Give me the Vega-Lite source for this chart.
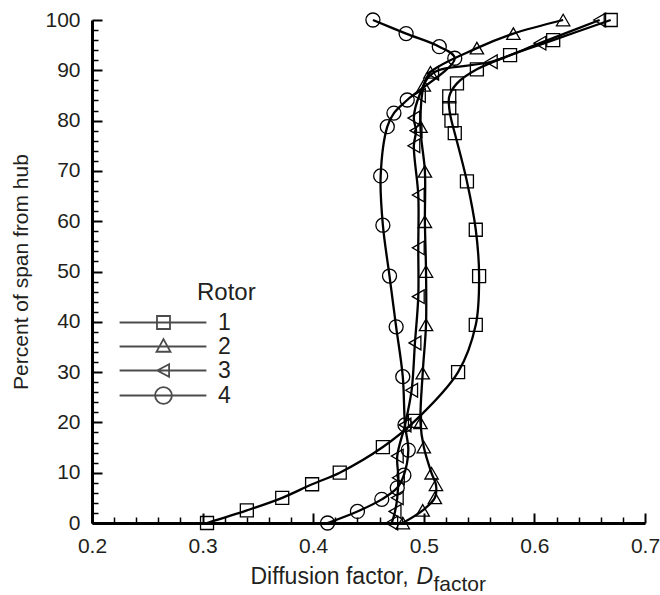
{
  "$schema": "https://vega.github.io/schema/vega-lite/v6.json",
  "width": 553,
  "height": 503,
  "autosize": {"type": "none"},
  "padding": {"left": 92, "top": 20, "right": 15, "bottom": 72},
  "background": "white",
  "config": {
    "view": {"stroke": null},
    "font": "Liberation Sans",
    "axis": {"labelColor": "#231f20", "titleColor": "#231f20", "domainColor": "#000", "tickColor": "#000", "grid": false, "labelFont": "Liberation Sans", "titleFont": "Liberation Sans", "titleFontWeight": "normal"}
  },
  "data": {
    "values": [
      {"Rotor": "1", "i": 1, "D": 0.304, "span": 0},
      {"Rotor": "1", "i": 2, "D": 0.340, "span": 2.5},
      {"Rotor": "1", "i": 3, "D": 0.372, "span": 5},
      {"Rotor": "1", "i": 4, "D": 0.399, "span": 7.7},
      {"Rotor": "1", "i": 5, "D": 0.424, "span": 10},
      {"Rotor": "1", "i": 6, "D": 0.463, "span": 15.1},
      {"Rotor": "1", "i": 7, "D": 0.492, "span": 20.3},
      {"Rotor": "1", "i": 8, "D": 0.531, "span": 30},
      {"Rotor": "1", "i": 9, "D": 0.547, "span": 39.4},
      {"Rotor": "1", "i": 10, "D": 0.550, "span": 49.1},
      {"Rotor": "1", "i": 11, "D": 0.547, "span": 58.3},
      {"Rotor": "1", "i": 12, "D": 0.539, "span": 67.9},
      {"Rotor": "1", "i": 13, "D": 0.528, "span": 77.5},
      {"Rotor": "1", "i": 14, "D": 0.525, "span": 80},
      {"Rotor": "1", "i": 15, "D": 0.523, "span": 82.5},
      {"Rotor": "1", "i": 16, "D": 0.523, "span": 84.8},
      {"Rotor": "1", "i": 17, "D": 0.530, "span": 87.4},
      {"Rotor": "1", "i": 18, "D": 0.548, "span": 90.2},
      {"Rotor": "1", "i": 19, "D": 0.578, "span": 93},
      {"Rotor": "1", "i": 20, "D": 0.617, "span": 96},
      {"Rotor": "1", "i": 21, "D": 0.669, "span": 100},
      {"Rotor": "2", "i": 1, "D": 0.481, "span": 0},
      {"Rotor": "2", "i": 2, "D": 0.499, "span": 2.5},
      {"Rotor": "2", "i": 3, "D": 0.510, "span": 5},
      {"Rotor": "2", "i": 4, "D": 0.511, "span": 7.6},
      {"Rotor": "2", "i": 5, "D": 0.507, "span": 9.9},
      {"Rotor": "2", "i": 6, "D": 0.500, "span": 15.1},
      {"Rotor": "2", "i": 7, "D": 0.497, "span": 19.9},
      {"Rotor": "2", "i": 8, "D": 0.499, "span": 29.8},
      {"Rotor": "2", "i": 9, "D": 0.502, "span": 39.4},
      {"Rotor": "2", "i": 10, "D": 0.502, "span": 50},
      {"Rotor": "2", "i": 11, "D": 0.501, "span": 59.9},
      {"Rotor": "2", "i": 12, "D": 0.501, "span": 69.9},
      {"Rotor": "2", "i": 13, "D": 0.497, "span": 78.8},
      {"Rotor": "2", "i": 14, "D": 0.500, "span": 87},
      {"Rotor": "2", "i": 15, "D": 0.506, "span": 89.6},
      {"Rotor": "2", "i": 16, "D": 0.548, "span": 94.4},
      {"Rotor": "2", "i": 17, "D": 0.581, "span": 97.3},
      {"Rotor": "2", "i": 18, "D": 0.626, "span": 100},
      {"Rotor": "3", "i": 1, "D": 0.471, "span": 0},
      {"Rotor": "3", "i": 2, "D": 0.474, "span": 2.3},
      {"Rotor": "3", "i": 3, "D": 0.476, "span": 5},
      {"Rotor": "3", "i": 4, "D": 0.477, "span": 9},
      {"Rotor": "3", "i": 5, "D": 0.476, "span": 13.3},
      {"Rotor": "3", "i": 6, "D": 0.483, "span": 19.5},
      {"Rotor": "3", "i": 7, "D": 0.489, "span": 26.4},
      {"Rotor": "3", "i": 8, "D": 0.492, "span": 35.8},
      {"Rotor": "3", "i": 9, "D": 0.495, "span": 45},
      {"Rotor": "3", "i": 10, "D": 0.495, "span": 54.7},
      {"Rotor": "3", "i": 11, "D": 0.495, "span": 65.2},
      {"Rotor": "3", "i": 12, "D": 0.491, "span": 75},
      {"Rotor": "3", "i": 13, "D": 0.493, "span": 78},
      {"Rotor": "3", "i": 14, "D": 0.491, "span": 80.5},
      {"Rotor": "3", "i": 15, "D": 0.496, "span": 85},
      {"Rotor": "3", "i": 16, "D": 0.508, "span": 89.4},
      {"Rotor": "3", "i": 17, "D": 0.561, "span": 91.7},
      {"Rotor": "3", "i": 18, "D": 0.605, "span": 95.4},
      {"Rotor": "3", "i": 19, "D": 0.659, "span": 100},
      {"Rotor": "4", "i": 1, "D": 0.413, "span": 0},
      {"Rotor": "4", "i": 2, "D": 0.440, "span": 2.3},
      {"Rotor": "4", "i": 3, "D": 0.462, "span": 4.7},
      {"Rotor": "4", "i": 4, "D": 0.476, "span": 7},
      {"Rotor": "4", "i": 5, "D": 0.482, "span": 9.5},
      {"Rotor": "4", "i": 6, "D": 0.486, "span": 14.5},
      {"Rotor": "4", "i": 7, "D": 0.483, "span": 19.5},
      {"Rotor": "4", "i": 8, "D": 0.481, "span": 29.1},
      {"Rotor": "4", "i": 9, "D": 0.475, "span": 39},
      {"Rotor": "4", "i": 10, "D": 0.469, "span": 49.1},
      {"Rotor": "4", "i": 11, "D": 0.463, "span": 59.2},
      {"Rotor": "4", "i": 12, "D": 0.461, "span": 69},
      {"Rotor": "4", "i": 13, "D": 0.467, "span": 78.8},
      {"Rotor": "4", "i": 14, "D": 0.473, "span": 81.5},
      {"Rotor": "4", "i": 15, "D": 0.485, "span": 84.1},
      {"Rotor": "4", "i": 16, "D": 0.528, "span": 92.4},
      {"Rotor": "4", "i": 17, "D": 0.514, "span": 94.7},
      {"Rotor": "4", "i": 18, "D": 0.484, "span": 97.3},
      {"Rotor": "4", "i": 19, "D": 0.454, "span": 100}
    ]
  },
  "layer": [
    {
      "mark": {"type": "line", "interpolate": "catmull-rom", "color": "#000", "strokeWidth": 2.3, "clip": false},
      "encoding": {
        "x": {"field": "D", "type": "quantitative", "scale": {"domain": [0.2, 0.7], "nice": false, "zero": false},
          "axis": {"orient": "bottom", "values": [0.2, 0.3, 0.4, 0.5, 0.6, 0.7], "format": ".1f", "labelFontSize": 21, "tickSize": -10, "tickWidth": 2, "domainWidth": 3, "labelPadding": 22, "labelFlush": false, "labelOverlap": false, "labelBound": false,
            "title": "Diffusion factor,", "titleFontSize": 23, "titleAlign": "left", "titleX": 158, "titleY": 60, "titleBaseline": "alphabetic"}},
        "y": {"field": "span", "type": "quantitative", "scale": {"domain": [0, 100], "nice": false, "zero": false},
          "axis": {"orient": "left", "values": [0, 10, 20, 30, 40, 50, 60, 70, 80, 90, 100], "labelFontSize": 21, "tickSize": -10, "tickWidth": 2, "domainWidth": 3, "labelPadding": 22, "labelFlush": false, "labelOverlap": false, "labelBound": false,
            "title": "Percent of span from hub", "titleFontSize": 21, "titleX": -71, "titleY": 251.5, "titleAngle": -90, "titleAlign": "center", "titleBaseline": "middle"}},
        "detail": {"field": "Rotor"},
        "order": {"field": "i", "type": "quantitative"}
      }
    },
    {
      "mark": {"type": "point", "filled": false, "color": "#000", "strokeWidth": 1.3, "opacity": 1, "clip": false},
      "encoding": {
        "x": {"field": "D", "type": "quantitative", "scale": {"domain": [0.2, 0.7], "nice": false, "zero": false},
          "axis": {"orient": "bottom", "values": [0.22, 0.24, 0.26, 0.28, 0.32, 0.34, 0.36, 0.38, 0.42, 0.44, 0.46, 0.48, 0.52, 0.54, 0.56, 0.58, 0.62, 0.64, 0.66, 0.68], "labels": false, "domain": false, "tickSize": -6, "tickWidth": 1.5,
            "title": "D", "titleFontSize": 23, "titleFontStyle": "italic", "titleAlign": "left", "titleX": 324, "titleY": 60, "titleBaseline": "alphabetic"}},
        "y": {"field": "span", "type": "quantitative", "scale": {"domain": [0, 100], "nice": false, "zero": false},
          "axis": {"orient": "left", "values": [2, 4, 6, 8, 12, 14, 16, 18, 22, 24, 26, 28, 32, 34, 36, 38, 42, 44, 46, 48, 52, 54, 56, 58, 62, 64, 66, 68, 72, 74, 76, 78, 82, 84, 86, 88, 92, 94, 96, 98], "labels": false, "domain": false, "tickSize": -6, "tickWidth": 1.5, "title": null}},
        "shape": {"field": "Rotor", "type": "nominal", "scale": {"domain": ["1", "2", "3", "4"], "range": ["square", "triangle-up", "triangle-left", "circle"]}, "legend": null},
        "size": {"field": "Rotor", "type": "ordinal", "scale": {"domain": ["1", "2", "3", "4"], "range": [169, 196, 150, 290]}, "legend": null}
      }
    },
    {
      "transform": [{"filter": {"field": "Rotor", "equal": "none"}}],
      "mark": {"type": "point", "filled": false, "color": "#000", "clip": false},
      "encoding": {
        "x": {"field": "D", "type": "quantitative", "scale": {"domain": [0.2, 0.7], "nice": false, "zero": false},
          "axis": {"orient": "bottom", "labels": false, "ticks": false, "domain": false, "title": "factor", "titleFontSize": 21, "titleAlign": "left", "titleX": 341, "titleY": 67, "titleBaseline": "alphabetic"}},
        "y": {"field": "span", "type": "quantitative", "scale": {"domain": [0, 100], "nice": false, "zero": false}, "axis": null},
        "shape": {"field": "Rotor", "type": "nominal",
          "scale": {"domain": ["1", "2", "3", "4"], "range": [
            "M-12.7,0H-0.3M-7.36,-0.93H-5.5V0.93H-7.36Z",
            "M-12.7,0H-0.3M-6.43,-1.05L-5.43,0.75H-7.43Z",
            "M-12.7,0H-0.3M-7.33,0L-5.63,-0.9V0.9Z",
            "M-12.7,0H-0.3M-7.63,0A1.2,1.2,0,1,1,-5.23,0A1.2,1.2,0,1,1,-7.63,0"
          ]},
          "legend": {"orient": "none", "legendX": 105, "legendY": 261, "title": "Rotor", "titleFontSize": 24, "titleFontWeight": "normal", "titleColor": "#231f20", "titleFont": "Liberation Sans", "labelFont": "Liberation Sans", "labelFontSize": 23, "labelColor": "#231f20", "symbolSize": 196, "symbolStrokeWidth": 1.8, "symbolStrokeColor": "#000", "symbolFillColor": "transparent", "labelOffset": -2, "rowPadding": 0, "titlePadding": 6, "padding": 0}}
      }
    }
  ],
  "resolve": {"scale": {"shape": "independent", "size": "independent"}, "axis": {"x": "independent", "y": "independent"}}
}
